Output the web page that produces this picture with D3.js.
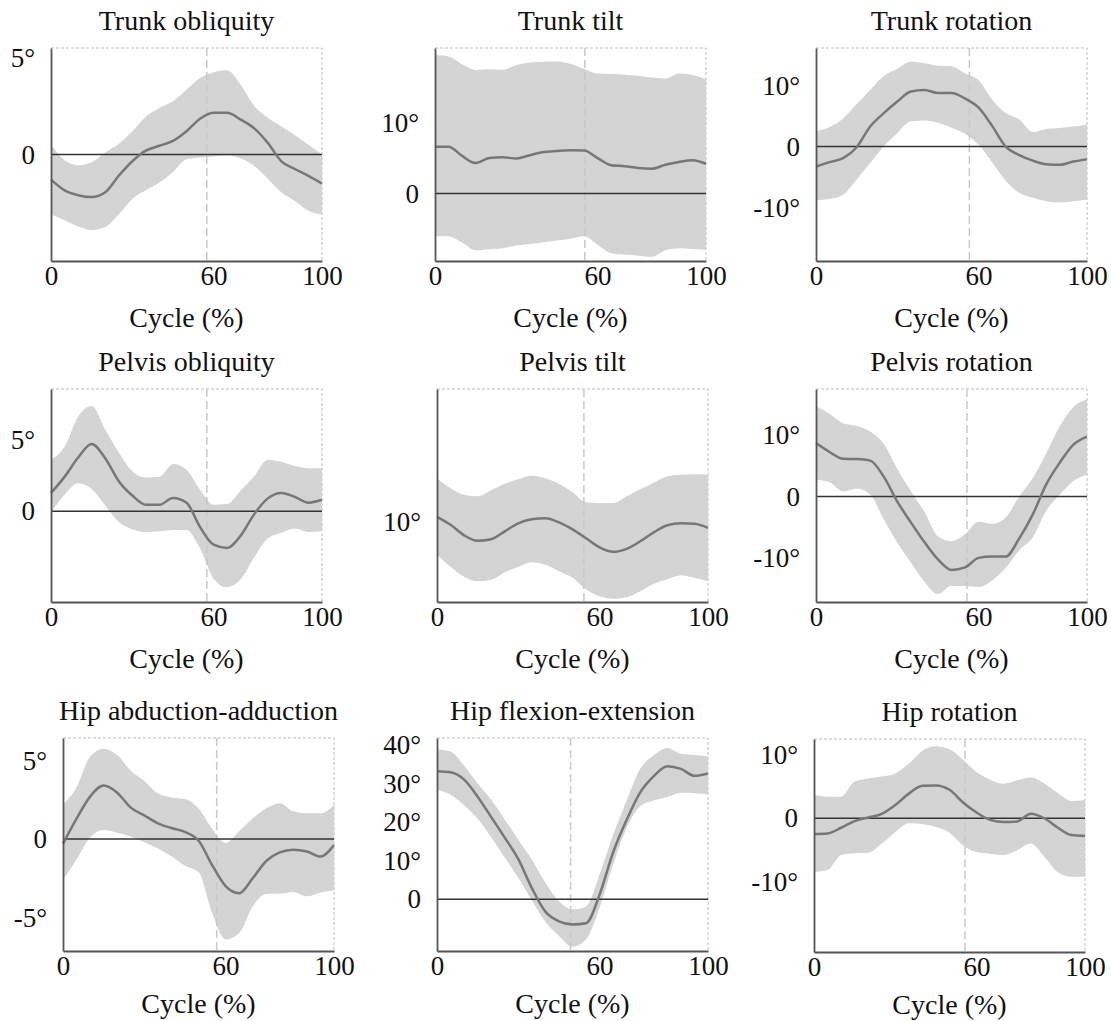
<!DOCTYPE html>
<html lang="en">
<head>
<meta charset="UTF-8" />
<title>Trunk, pelvis and hip kinematics</title>
<script src="https://cdn.jsdelivr.net/npm/d3@7"></script>
<style>
  body { margin: 0; background: #fff; }
  svg text { font-family: "Liberation Serif", Tinos, "DejaVu Serif", serif; fill: #111; }
  .band { fill: #d4d4d4; }
  .mean { fill: none; stroke: #777; stroke-width: 2.5; }
  .zero { stroke: #333; stroke-width: 1.5; }
  .toe { stroke: #c8c8c8; stroke-width: 1.5; stroke-dasharray: 8,4; }
  .frame { stroke: #bdbdbd; stroke-width: 1; stroke-dasharray: 3,2; fill: none; }
  .axis path { stroke: #555; stroke-width: 1.8; }
  .axis text { font-size: 27px; }
</style>
</head>
<body>
<div id="chart"></div>
<script>
// gait cycle sample points (%)
var cycle = [0,5,10,15,20,25,30,35,40,45,50,55,60,65,70,75,80,85,90,95,100];
var xTicks = [0, 60, 100];

// mean and +/- band per joint angle (degrees)
var trunkObliquityMean  = [-1.3,-1.85,-2.1,-2.2,-1.95,-1.1,-0.35,0.2,0.45,0.7,1.2,1.85,2.15,2.15,1.8,1.35,0.6,-0.35,-0.75,-1.1,-1.5];
var trunkObliquityUpper = [0.5,-0.3,-0.55,-0.4,0.1,0.55,1.2,1.95,2.4,2.75,3.35,3.95,4.25,4.35,3.6,2.5,1.9,1.45,1.0,0.5,0.0];
var trunkObliquityLower = [-3.1,-3.4,-3.72,-3.9,-3.75,-3.1,-2.3,-1.85,-1.45,-0.9,-0.25,-0.15,-0.1,-0.05,-0.2,-0.6,-1.25,-1.95,-2.4,-2.9,-3.1];

var trunkTiltMean  = [6.6,6.6,5.3,4.3,5.0,5.1,4.95,5.4,5.85,6.0,6.1,6.05,5.0,4.0,3.85,3.6,3.5,4.05,4.45,4.7,4.2];
var trunkTiltUpper = [19.5,19.3,18.2,17.4,17.5,17.45,18.1,18.45,18.55,18.6,18.25,17.55,16.9,16.85,16.75,16.6,16.35,16.2,16.9,16.7,16.1];
var trunkTiltLower = [-6.0,-6.0,-6.9,-8.0,-7.85,-7.7,-7.3,-7.1,-6.85,-6.6,-6.35,-6.0,-7.2,-8.4,-8.6,-8.75,-8.9,-8.0,-7.7,-7.8,-7.9];

var trunkRotationMean  = [-3.3,-2.55,-1.9,-0.1,3.3,5.5,7.4,9.05,9.3,8.8,8.8,7.9,6.4,3.4,0.0,-1.4,-2.3,-2.9,-3.0,-2.45,-2.1];
var trunkRotationUpper = [2.5,3.2,4.6,7.0,9.3,11.6,12.8,14.0,13.7,13.3,13.2,12.0,10.9,7.7,5.5,4.5,2.4,2.9,3.05,3.3,3.6];
var trunkRotationLower = [-8.8,-8.6,-7.9,-5.4,-2.7,0.05,2.2,4.15,4.3,3.9,3.1,2.1,0.3,-2.6,-5.6,-7.6,-8.4,-9.0,-9.2,-9.0,-8.7];

var pelvisObliquityMean  = [1.28,2.4,3.75,4.7,3.7,2.1,1.1,0.45,0.45,0.93,0.6,-1.1,-2.33,-2.56,-1.7,-0.2,0.9,1.28,1.0,0.6,0.8];
var pelvisObliquityUpper = [3.6,4.5,6.6,7.35,5.7,4.1,2.8,2.35,2.4,3.3,2.9,1.5,0.45,0.5,1.45,2.45,3.6,3.45,3.15,3.0,3.0];
var pelvisObliquityLower = [-0.1,1.15,1.95,1.55,0.4,-0.75,-1.25,-1.45,-1.4,-1.3,-1.3,-2.6,-4.7,-5.3,-4.75,-3.2,-1.9,-1.5,-1.2,-1.45,-1.4];

var pelvisTiltMean  = [10.55,9.75,8.7,8.15,8.3,9.1,9.9,10.3,10.4,10.0,9.3,8.4,7.5,7.05,7.35,8.1,9.0,9.7,9.9,9.85,9.45];
var pelvisTiltUpper = [14.4,13.4,12.75,12.6,13.2,13.85,14.3,14.65,14.4,13.85,13.0,12.0,11.93,11.93,12.6,13.3,13.95,14.6,14.75,14.8,14.77];
var pelvisTiltLower = [6.75,5.55,4.55,4.1,4.25,5.0,5.55,6.0,5.75,5.1,4.45,3.3,2.6,2.35,2.5,3.1,3.85,4.3,4.7,4.45,4.1];

var pelvisRotationMean  = [8.65,7.2,6.1,6.05,5.8,3.2,-0.85,-4.2,-7.4,-10.2,-11.9,-11.5,-9.95,-9.75,-9.75,-6.8,-2.9,2.0,5.5,8.4,9.7];
var pelvisRotationUpper = [14.6,13.4,11.85,11.4,10.5,8.5,4.5,0.85,-2.5,-6.5,-7.25,-6.1,-4.1,-4.45,-3.4,0.0,3.0,7.0,11.4,14.5,15.7];
var pelvisRotationLower = [2.7,2.3,0.8,1.3,0.3,-3.7,-7.5,-10.7,-13.8,-15.8,-14.5,-14.5,-14.65,-13.6,-11.6,-8.7,-6.6,-2.3,0.3,2.5,3.5];

var hipAbdAddMean  = [-0.3,1.3,2.7,3.4,2.95,2.0,1.5,1.0,0.7,0.45,-0.1,-1.65,-3.0,-3.45,-2.5,-1.4,-0.85,-0.68,-0.8,-1.12,-0.38];
var hipAbdAddUpper = [2.2,3.3,5.25,5.75,5.35,4.35,3.7,2.9,2.65,2.55,1.95,0.65,-0.25,0.5,1.3,1.95,2.28,1.76,1.64,1.64,2.17];
var hipAbdAddLower = [-2.6,-1.3,0.1,0.57,0.4,0.15,-0.2,-0.6,-1.1,-1.7,-2.1,-4.7,-6.4,-6.0,-4.3,-3.5,-3.47,-3.37,-3.65,-3.4,-3.26];

var hipFlexExtMean  = [33.2,32.9,31.0,26.6,21.3,16.0,10.4,2.9,-3.2,-5.7,-6.5,-6.2,1.2,12.2,20.6,27.7,31.9,34.5,33.8,32.0,32.6];
var hipFlexExtUpper = [38.8,38.3,34.6,30.0,25.8,20.7,15.4,10.3,4.3,-0.5,-2.6,-1.9,6.4,16.7,25.6,33.8,37.3,39.2,37.7,37.4,37.1];
var hipFlexExtLower = [28.4,27.1,24.4,20.9,16.1,10.8,5.6,-0.3,-5.8,-9.5,-12.3,-10.4,-2.1,9.0,18.5,24.1,25.6,26.5,27.6,27.5,27.2];

var hipRotationMean  = [-2.5,-2.4,-1.5,-0.45,0.13,0.7,2.1,3.9,5.15,5.2,4.5,2.5,0.9,-0.26,-0.6,-0.5,0.72,0.0,-1.5,-2.65,-2.8];
var hipRotationUpper = [3.7,3.4,3.4,5.8,6.3,6.6,7.1,8.65,10.7,11.38,10.9,9.26,7.3,6.1,5.45,6.0,6.45,5.5,4.0,2.75,2.9];
var hipRotationLower = [-8.5,-8.2,-5.8,-5.55,-5.45,-4.0,-2.2,-0.8,-0.92,-1.4,-2.28,-4.3,-5.35,-5.6,-5.8,-5.05,-4.0,-6.1,-8.55,-9.26,-9.26];

// toe-off (% of cycle) marked by the dashed line
var toeOff = [57.5, 55.3, 56.6, 57.5, 54.2, 55.7, 56.7, 49.3, 55.7];

var panels = [
  {title: "Trunk obliquity", mean: trunkObliquityMean, upper: trunkObliquityUpper, lower: trunkObliquityLower, yDomain: [-5.5, 5.5], yTicks: [0, 5]},
  {title: "Trunk tilt", mean: trunkTiltMean, upper: trunkTiltUpper, lower: trunkTiltLower, yDomain: [-9.5, 20.5], yTicks: [0, 10]},
  {title: "Trunk rotation", mean: trunkRotationMean, upper: trunkRotationUpper, lower: trunkRotationLower, yDomain: [-18.8, 16.2], yTicks: [-10, 0, 10]},
  {title: "Pelvis obliquity", mean: pelvisObliquityMean, upper: pelvisObliquityUpper, lower: pelvisObliquityLower, yDomain: [-6.33, 8.53], yTicks: [0, 5]},
  {title: "Pelvis tilt", mean: pelvisTiltMean, upper: pelvisTiltUpper, lower: pelvisTiltLower, yDomain: [2.03, 23.33], yTicks: [10]},
  {title: "Pelvis rotation", mean: pelvisRotationMean, upper: pelvisRotationUpper, lower: pelvisRotationLower, yDomain: [-17.1, 17.4], yTicks: [-10, 0, 10]},
  {title: "Hip abduction-adduction", mean: hipAbdAddMean, upper: hipAbdAddUpper, lower: hipAbdAddLower, yDomain: [-7.13, 6.43], yTicks: [-5, 0, 5]},
  {title: "Hip flexion-extension", mean: hipFlexExtMean, upper: hipFlexExtUpper, lower: hipFlexExtLower, yDomain: [-13.4, 41.8], yTicks: [0, 10, 20, 30, 40]},
  {title: "Hip rotation", mean: hipRotationMean, upper: hipRotationUpper, lower: hipRotationLower, yDomain: [-21.16, 12.54], yTicks: [-10, 0, 10]}
];

var W = 1111, H = 1021;
var pw = 271, ph = 213;
// plot origins, one per panel
var lefts = [51, 435, 816, 51, 437, 816, 63, 437, 814];
var tops  = [48, 48, 48, 389, 389, 389, 738, 738, 739];

var svg = d3.select("#chart").append("svg")
  .attr("width", W)
  .attr("height", H);

panels.forEach(function(p, i) {
  var g = svg.append("g")
    .attr("transform", "translate(" + lefts[i] + "," + tops[i] + ")");

  var x = d3.scaleLinear().domain([0, 100]).range([0, pw]);
  var y = d3.scaleLinear().domain(p.yDomain).range([ph, 0]);

  var rows = cycle.map(function(c, k) {
    return {c: c, m: p.mean[k], hi: p.upper[k], lo: p.lower[k]};
  });

  var area = d3.area()
    .curve(d3.curveMonotoneX)
    .x(function(d) { return x(d.c); })
    .y0(function(d) { return y(d.lo); })
    .y1(function(d) { return y(d.hi); });

  var line = d3.line()
    .curve(d3.curveMonotoneX)
    .x(function(d) { return x(d.c); })
    .y(function(d) { return y(d.m); });

  // dotted frame on top and right
  g.append("path")
    .attr("class", "frame")
    .attr("d", "M0,0H" + pw + "V" + ph);

  g.append("path")
    .datum(rows)
    .attr("class", "band")
    .attr("d", area);

  g.append("line")
    .attr("class", "toe")
    .attr("x1", x(toeOff[i]))
    .attr("x2", x(toeOff[i]))
    .attr("y1", 0)
    .attr("y2", ph);

  if (p.yDomain[0] < 0 && p.yDomain[1] > 0) {
    g.append("line")
      .attr("class", "zero")
      .attr("x1", 0)
      .attr("x2", pw)
      .attr("y1", y(0))
      .attr("y2", y(0));
  }

  g.append("path")
    .datum(rows)
    .attr("class", "mean")
    .attr("d", line);

  var yAxis = g.append("g")
    .attr("class", "axis")
    .call(d3.axisLeft(y)
      .tickValues(p.yTicks)
      .tickSize(0)
      .tickPadding(16)
      .tickFormat(function(d) { return d === 0 ? "0" : d + "°"; }));

  var xAxis = g.append("g")
    .attr("class", "axis")
    .attr("transform", "translate(0," + ph + ")")
    .call(d3.axisBottom(x)
      .tickValues(xTicks)
      .tickSize(0)
      .tickPadding(5)
      .tickFormat(d3.format("d")));

  yAxis.attr("font-family", null);
  xAxis.attr("font-family", null);
  g.selectAll(".axis .tick line").remove();

  g.append("text")
    .attr("x", pw / 2)
    .attr("y", -18)
    .attr("text-anchor", "middle")
    .style("font-size", "28px")
    .text(p.title);

  g.append("text")
    .attr("x", pw / 2)
    .attr("y", ph + (i < 6 ? 66 : 62))
    .attr("text-anchor", "middle")
    .style("font-size", "28px")
    .text("Cycle (%)");
});
</script>
</body>
</html>
